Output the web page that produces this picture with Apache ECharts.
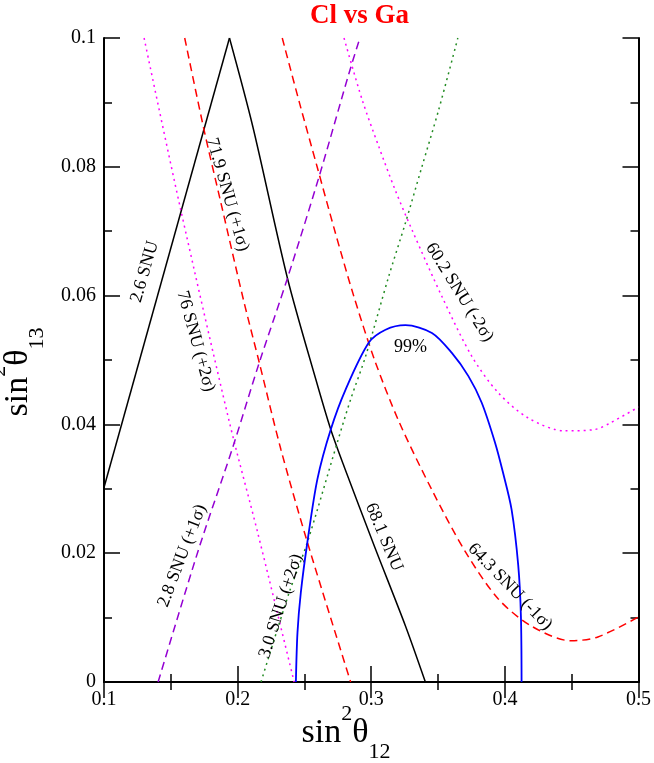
<!DOCTYPE html>
<html>
<head>
<meta charset="utf-8">
<script src="https://cdn.jsdelivr.net/npm/echarts@6/dist/echarts.min.js"></script>
<style>
  html, body { margin: 0; padding: 0; background: #fff; }
  #main { width: 654px; height: 763px; }
</style>
</head>
<body>
<div id="main"></div>
<script>
// curves, [sin^2 theta12, sin^2 theta13]
const cl26 = [[0.1, 0.0302], [0.1939, 0.1]];
const cl681 = [[0.1939, 0.1], [0.2113, 0.0863], [0.2373, 0.0627], [0.2585, 0.047], [0.2697, 0.0392], [0.2796, 0.0335],
  [0.3025, 0.021], [0.3256, 0.0087], [0.3405, 0]];
const ga719 = [[0.1604, 0.1], [0.1749, 0.0857], [0.1875, 0.0744], [0.2043, 0.0594], [0.2162, 0.0496], [0.2324, 0.0361],
  [0.2522, 0.0217], [0.2846, 0]];
const ga643 = [[0.2334, 0.1], [0.2462, 0.09], [0.2595, 0.08], [0.2728, 0.07], [0.2868, 0.06], [0.3025, 0.05], [0.3206, 0.0405],
  [0.3452, 0.0299], [0.3705, 0.0202], [0.3951, 0.0129], [0.4197, 0.0087], [0.4495, 0.0064], [0.4696, 0.007], [0.5, 0.0101]];
const ga76 = [[0.13, 0.1], [0.1566, 0.0741], [0.1939, 0.0403], [0.215, 0.0232], [0.2423, 0]];
const ga602 = [[0.2796, 0.1], [0.2932, 0.0904], [0.3057, 0.0831], [0.3181, 0.0763], [0.3305, 0.0702], [0.3528, 0.0599],
  [0.3752, 0.0506], [0.3951, 0.0449], [0.4174, 0.041], [0.4448, 0.039], [0.4671, 0.0392], [0.4795, 0.0403], [0.5, 0.0427]];
const cl28 = [[0.1405, 0], [0.1708, 0.0206], [0.1963, 0.0364], [0.2162, 0.0496], [0.2373, 0.0627], [0.261, 0.0785],
  [0.2833, 0.0945], [0.2915, 0.1]];
const cl30 = [[0.2175, 0], [0.2386, 0.0139], [0.2522, 0.0217], [0.2746, 0.0372], [0.2846, 0.0439], [0.2958, 0.0506],
  [0.3131, 0.063], [0.3256, 0.0713], [0.3379, 0.08], [0.3504, 0.0888], [0.3648, 0.1]];
const cl99 = [[0.2436, 0], [0.2448, 0.0077], [0.2473, 0.0139], [0.2522, 0.0217], [0.2597, 0.0315], [0.2697, 0.0392],
  [0.2808, 0.0454], [0.2982, 0.0527], [0.3107, 0.0547], [0.3256, 0.0554], [0.3454, 0.0542], [0.3603, 0.0511],
  [0.3727, 0.0475], [0.3826, 0.0434], [0.3926, 0.0372], [0.3985, 0.0326], [0.405, 0.0268], [0.41, 0.0181],
  [0.412, 0.0103], [0.4125, 0]];

// curve labels: text, data position, rotation (deg)
const curveLabels = [
  ['2.6 SNU', 0.1305, 0.0637, 74],
  ['71.9 SNU (+1σ)', 0.1924, 0.0757, -74],
  ['76 SNU (+2σ)', 0.1686, 0.0529, -74.5],
  ['60.2 SNU (-2σ)', 0.366, 0.0605, -58],
  ['99%', 0.3293, 0.0519, 0],
  ['2.8 SNU (+1σ)', 0.1585, 0.0196, 69],
  ['3.0 SNU (+2σ)', 0.2324, 0.0118, 72],
  ['68.1 SNU', 0.3094, 0.0225, -67],
  ['64.3 SNU (-1σ)', 0.4038, 0.0148, -46]
];

const serif = 'Liberation Serif';

function curve(name, data, color, type, width) {
  return {
    name: name, type: 'line', data: data, showSymbol: false, smooth: 0.3,
    lineStyle: { color: color, type: type, width: width || 1.5 },
    silent: true, z: 3
  };
}

function frameAxis(pos, min, max, step, labels) {
  return {
    type: 'value', min: min, max: max, interval: step, position: pos,
    axisLine: { lineStyle: { color: '#000', width: 2 } },
    axisTick: { inside: true, length: 16, lineStyle: { color: '#000', width: 1.5 } },
    minorTick: { show: true, splitNumber: 2, length: 8, lineStyle: { color: '#000', width: 1.5 } },
    splitLine: { show: false },
    axisLabel: { show: labels, color: '#000', fontFamily: serif, fontSize: 20, margin: 8 }
  };
}

const titleRich = {
  a: { fontFamily: serif, fontSize: 34, fill: '#000', lineHeight: 60 },
  b: { fontFamily: serif, fontSize: 22, fill: '#000', verticalAlign: 'top', lineHeight: 30 },
  c: { fontFamily: serif, fontSize: 22, fill: '#000', verticalAlign: 'bottom', lineHeight: 26 }
};

const chart = echarts.init(document.getElementById('main'));
chart.setOption({
  animation: false,
  title: {
    text: 'Cl vs Ga', left: 305, top: -2,
    textStyle: { color: '#ff0000', fontFamily: serif, fontWeight: 'bold', fontSize: 27 }
  },
  grid: { left: 104, right: 13, top: 38, bottom: 81 },
  xAxis: [frameAxis('bottom', 0.1, 0.5, 0.1, true), frameAxis('top', 0.1, 0.5, 0.1, false)],
  yAxis: [frameAxis('left', 0, 0.1, 0.02, true), frameAxis('right', 0, 0.1, 0.02, false)],
  series: [
    curve('2.6 SNU', cl26, '#000', 'solid'),
    curve('68.1 SNU', cl681, '#000', 'solid'),
    curve('71.9 SNU', ga719, '#ff0000', [8, 5]),
    curve('64.3 SNU', ga643, '#ff0000', [8, 5]),
    curve('76 SNU', ga76, '#ff00ff', [2, 4]),
    curve('60.2 SNU', ga602, '#ff00ff', [2, 4]),
    curve('2.8 SNU', cl28, '#9400d3', [8, 5]),
    curve('3.0 SNU', cl30, '#228b22', [2, 4]),
    curve('99%', cl99, '#0000ff', 'solid', 1.8)
  ]
});

// curve labels at their data positions, plus the two axis titles
const texts = curveLabels.map(function (l) {
  const p = chart.convertToPixel({ gridIndex: 0 }, [l[1], l[2]]);
  return {
    type: 'text', x: p[0], y: p[1], rotation: l[3] * Math.PI / 180, z: 10,
    style: { text: l[0], fill: '#000', font: '18px "' + serif + '"', align: 'center', verticalAlign: 'middle' }
  };
});
texts.push({
  type: 'text', x: 346, y: 733, z: 10,
  style: { text: '{a|sin}{b|2}{a|θ}{c|12}', rich: titleRich, align: 'center', verticalAlign: 'middle' }
});
texts.push({
  type: 'text', x: 18, y: 372, rotation: Math.PI / 2, z: 10,
  style: { text: '{a|sin}{b|2}{a|θ}{c|13}', rich: titleRich, align: 'center', verticalAlign: 'middle' }
});
chart.setOption({ graphic: texts });
</script>
</body>
</html>
